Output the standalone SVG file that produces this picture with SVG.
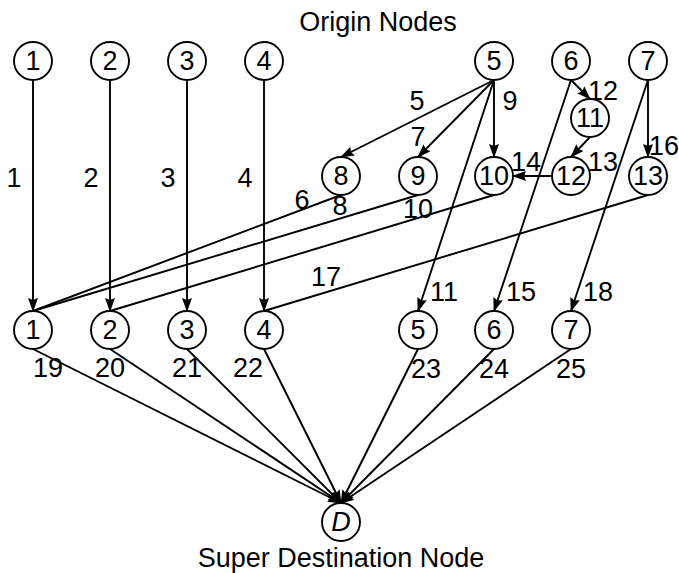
<svg xmlns="http://www.w3.org/2000/svg" width="679" height="573" viewBox="0 0 679 573">
<style>
.n circle{fill:#fff;stroke:#000;stroke-width:1.9}
text{font-family:"Liberation Sans",Arial,sans-serif;font-size:27px;fill:#000;text-anchor:middle}
.t{font-size:27px}
.c path{fill:none;stroke:#000;stroke-width:1.9}
.c path.a{marker-end:url(#ah)}
</style>
<defs>
<marker id="ah" markerUnits="userSpaceOnUse" markerWidth="15" markerHeight="12" refX="13" refY="5" orient="auto">
<path d="M0,0 L14,5 L0,10 L2,5 z" fill="#000"/>
</marker>
</defs>
<rect width="679" height="573" fill="#fff"/>
<text class="t" x="378" y="31">Origin Nodes</text>
<text class="t" x="341" y="567">Super Destination Node</text>
<g class="c" id="connectors">
<path class="a" d="M33,80 L33,311"/>
<path class="a" d="M110,80 L110,311"/>
<path class="a" d="M187,80 L187,311"/>
<path class="a" d="M264,80 L264,311"/>
<path class="a" d="M494,80 L341,157"/>
<path class="a" d="M494,80 L418,157"/>
<path class="a" d="M494,80 L494,157"/>
<path class="a" d="M494,80 L418,311"/>
<path class="a" d="M571,80 L590,99"/>
<path class="a" d="M590,137 L571,157"/>
<path class="a" d="M552,176 L513,176"/>
<path class="a" d="M571,80 L494,311"/>
<path class="a" d="M648,80 L648,157"/>
<path class="a" d="M648,80 L571,311"/>
<path d="M341,195 L33,311"/>
<path d="M418,195 L33,311"/>
<path d="M494,195 L110,311"/>
<path d="M648,195 L264,311"/>
<path class="a" d="M33,349 L341,503"/>
<path class="a" d="M110,349 L341,503"/>
<path class="a" d="M187,349 L341,503"/>
<path class="a" d="M264,349 L341,503"/>
<path class="a" d="M418,349 L341,503"/>
<path class="a" d="M494,349 L341,503"/>
<path class="a" d="M571,349 L341,503"/>
<g id="edge-labels">
<text x="14" y="187">1</text>
<text x="91" y="187">2</text>
<text x="168" y="187">3</text>
<text x="245" y="187">4</text>
<text x="417" y="110">5</text>
<text x="418" y="146">7</text>
<text x="510" y="110">9</text>
<text x="603" y="100">12</text>
<text x="603" y="171">13</text>
<text x="526" y="171">14</text>
<text x="664" y="155">16</text>
<text x="302" y="209">6</text>
<text x="340" y="215">8</text>
<text x="418" y="218">10</text>
<text x="326" y="286">17</text>
<text x="444" y="301">11</text>
<text x="521" y="301">15</text>
<text x="598" y="301">18</text>
<text x="48" y="377">19</text>
<text x="110" y="377">20</text>
<text x="187" y="377">21</text>
<text x="248" y="377">22</text>
<text x="426" y="378">23</text>
<text x="494" y="378">24</text>
<text x="571" y="378">25</text>
</g>
</g>
<g class="n" id="o1"><circle cx="33" cy="61" r="19"/><text x="33" y="70">1</text></g>
<g class="n" id="o2"><circle cx="110" cy="61" r="19"/><text x="110" y="70">2</text></g>
<g class="n" id="o3"><circle cx="187" cy="61" r="19"/><text x="187" y="70">3</text></g>
<g class="n" id="o4"><circle cx="264" cy="61" r="19"/><text x="264" y="70">4</text></g>
<g class="n" id="o5"><circle cx="494" cy="61" r="19"/><text x="494" y="70">5</text></g>
<g class="n" id="o6"><circle cx="571" cy="61" r="19"/><text x="571" y="70">6</text></g>
<g class="n" id="o7"><circle cx="648" cy="61" r="19"/><text x="648" y="70">7</text></g>
<g class="n" id="n8"><circle cx="341" cy="176" r="19"/><text x="341" y="185">8</text></g>
<g class="n" id="n9"><circle cx="418" cy="176" r="19"/><text x="418" y="185">9</text></g>
<g class="n" id="n10"><circle cx="494" cy="176" r="19"/><text x="494" y="185">10</text></g>
<g class="n" id="n11"><circle cx="590" cy="118" r="19"/><text x="590" y="127">11</text></g>
<g class="n" id="n12"><circle cx="571" cy="176" r="19"/><text x="571" y="185">12</text></g>
<g class="n" id="n13"><circle cx="648" cy="176" r="19"/><text x="648" y="185">13</text></g>
<g class="n" id="d1"><circle cx="33" cy="330" r="19"/><text x="33" y="339">1</text></g>
<g class="n" id="d2"><circle cx="110" cy="330" r="19"/><text x="110" y="339">2</text></g>
<g class="n" id="d3"><circle cx="187" cy="330" r="19"/><text x="187" y="339">3</text></g>
<g class="n" id="d4"><circle cx="264" cy="330" r="19"/><text x="264" y="339">4</text></g>
<g class="n" id="d5"><circle cx="418" cy="330" r="19"/><text x="418" y="339">5</text></g>
<g class="n" id="d6"><circle cx="494" cy="330" r="19"/><text x="494" y="339">6</text></g>
<g class="n" id="d7"><circle cx="571" cy="330" r="19"/><text x="571" y="339">7</text></g>
<g class="n" id="D"><circle cx="341" cy="522" r="19"/><text x="341" y="531" font-style="italic">D</text></g>
</svg>
